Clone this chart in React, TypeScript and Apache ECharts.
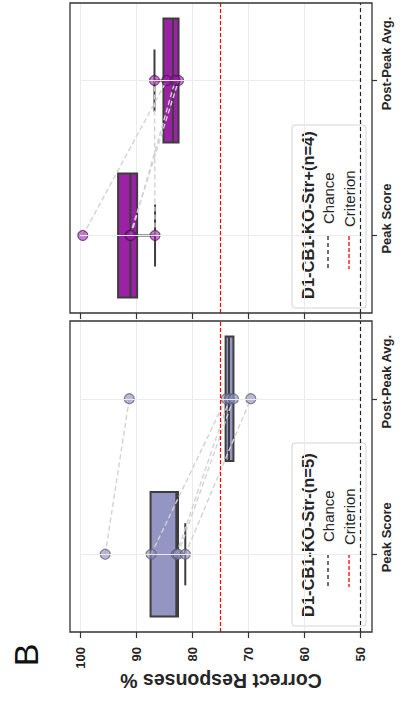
import React, { useEffect, useRef } from "react";
import * as echarts from "echarts";

// ---------- data ----------
const categories = ["Peak Score", "Post-Peak Avg."];
const valueTicks = [50, 60, 70, 80, 90, 100];
const chanceLevel = 50;
const criterionLevel = 75;

// D1-CB1-KO-Str-(n=5) (bottom panel)
const strMinusTitle = "D1-CB1-KO-Str-(n=5)";
const strMinusPeak = [95.5, 87.3, 82.8, 82.5, 81.2];
const strMinusPost = [91.2, 73.9, 73.3, 72.6, 69.5];
// [lower whisker, Q1, median, Q3, upper whisker]
const strMinusBoxPeak = [81.2, 82.5, 82.8, 87.4, 87.4];
const strMinusBoxPost = [72.6, 72.6, 73.4, 74.0, 74.0];

// D1-CB1-KO-Str+(n=4) (top panel)
const strPlusTitle = "D1-CB1-KO-Str+(n=4)";
const strPlusPeak = [99.5, 91.1, 90.9, 86.6];
const strPlusPost = [84.5, 82.4, 83.0, 86.7];
const strPlusBoxPeak = [86.6, 89.8, 91.0, 93.2, 93.2];
const strPlusBoxPost = [82.4, 82.4, 83.4, 85.1, 86.7];

const FONT = '"Liberation Sans", Arial, Helvetica, sans-serif';
const TEXT = "#262626";
const EDGE = "#3d3d3d";

function boxSeries(gi: number, boxes: number[][], fill: string) {
  return {
    type: "custom",
    xAxisIndex: gi,
    yAxisIndex: gi,
    z: 2,
    silent: true,
    data: boxes.map((b, i) => [i, ...b]),
    encode: { x: [1, 2, 3, 4, 5], y: 0 },
    renderItem: (params: any, api: any) => {
      const cat = api.value(0);
      const band = api.size([0, 1])[1];
      const c = (v: number) => api.coord([v, cat]);
      const lo = c(api.value(1));
      const q1 = c(api.value(2));
      const med = c(api.value(3));
      const q3 = c(api.value(4));
      const hi = c(api.value(5));
      const cy = q1[1];
      const bh = band * 0.8;
      const ch = band * 0.4;
      const ls = { stroke: EDGE, lineWidth: 2 };
      const children: any[] = [];
      const addWhisker = (from: number[], to: number[]) => {
        if (Math.abs(from[0] - to[0]) < 0.5) return;
        children.push({
          type: "line",
          shape: { x1: from[0], y1: cy, x2: to[0], y2: cy },
          style: ls,
        });
        children.push({
          type: "line",
          shape: { x1: to[0], y1: cy - ch / 2, x2: to[0], y2: cy + ch / 2 },
          style: ls,
        });
      };
      addWhisker(q1, lo);
      addWhisker(q3, hi);
      children.push({
        type: "rect",
        shape: {
          x: Math.min(q1[0], q3[0]),
          y: cy - bh / 2,
          width: Math.abs(q1[0] - q3[0]),
          height: bh,
        },
        style: { fill, stroke: EDGE, lineWidth: 2 },
      });
      children.push({
        type: "line",
        shape: { x1: med[0], y1: cy - bh / 2, x2: med[0], y2: cy + bh / 2 },
        style: ls,
      });
      return { type: "group", children };
    },
  };
}

function pairSeries(gi: number, peak: number[], post: number[]) {
  return peak.map((p, i) => ({
    type: "line",
    xAxisIndex: gi,
    yAxisIndex: gi,
    z: 3,
    silent: true,
    symbol: "none",
    data: [
      [p, categories[0]],
      [post[i], categories[1]],
    ],
    lineStyle: { color: "#d2d2d2", width: 1.4, type: [5, 3] },
  }));
}

function pointSeries(gi: number, peak: number[], post: number[], fill: string, border: string) {
  return {
    type: "scatter",
    xAxisIndex: gi,
    yAxisIndex: gi,
    z: 4,
    silent: true,
    symbolSize: 10,
    data: [
      ...peak.map((v) => [v, categories[0]]),
      ...post.map((v) => [v, categories[1]]),
    ],
    itemStyle: { color: fill, borderColor: border, borderWidth: 1.2 },
  };
}

function refSeries(gi: number) {
  return {
    type: "scatter",
    xAxisIndex: gi,
    yAxisIndex: gi,
    z: 1,
    silent: true,
    symbolSize: 0,
    data: [[criterionLevel, categories[0]]],
    markLine: {
      silent: true,
      symbol: ["none", "none"],
      label: { show: false },
      animation: false,
      data: [
        ...categories.map((cName) => ({
          yAxis: cName,
          lineStyle: { color: "#ebebeb", type: "solid", width: 1 },
        })),
        { xAxis: chanceLevel, lineStyle: { color: "#222", type: [4, 3], width: 1.2 } },
        { xAxis: criterionLevel, lineStyle: { color: "#ff0000", type: [4, 2], width: 1.2 } },
      ],
    },
  };
}

function legendGraphic(panelTop: number, title: string) {
  const top = panelTop + 122;
  return {
    type: "group",
    z: 20,
    children: [
      {
        type: "rect",
        shape: { x: 292, y: top, width: 74, height: 183, r: 3 },
        style: { fill: "rgba(255,255,255,0.8)", stroke: "#d4d4d4", lineWidth: 1 },
      },
      {
        type: "text",
        x: 308,
        y: panelTop + 296,
        rotation: Math.PI / 2,
        style: {
          text: title,
          font: `bold 16.5px ${FONT}`,
          fill: TEXT,
          align: "left",
          verticalAlign: "middle",
        },
      },
      {
        type: "line",
        shape: { x1: 328, y1: panelTop + 233, x2: 328, y2: panelTop + 266 },
        style: { stroke: "#222", lineWidth: 1.3, lineDash: [4, 3] },
      },
      {
        type: "text",
        x: 328,
        y: panelTop + 221,
        rotation: Math.PI / 2,
        style: { text: "Chance", font: `15px ${FONT}`, fill: TEXT, align: "left", verticalAlign: "middle" },
      },
      {
        type: "line",
        shape: { x1: 349, y1: panelTop + 233, x2: 349, y2: panelTop + 266 },
        style: { stroke: "#ff0000", lineWidth: 1.3, lineDash: [4, 2] },
      },
      {
        type: "text",
        x: 349,
        y: panelTop + 224,
        rotation: Math.PI / 2,
        style: { text: "Criterion", font: `15px ${FONT}`, fill: TEXT, align: "left", verticalAlign: "middle" },
      },
    ],
  };
}

const panels = [
  { top: 3, height: 310, showLabels: false },
  { top: 321, height: 311, showLabels: true },
];

export default function App() {
  const ref = useRef<HTMLDivElement>(null);
  useEffect(() => {
    if (!ref.current) return;
    const chart = echarts.init(ref.current, null, { renderer: "svg" });
    const option: any = {
      animation: false,
      backgroundColor: "#fff",
      textStyle: { fontFamily: FONT },
      grid: panels.map((p) => ({ left: 80, width: 280, top: p.top, height: p.height })),
      xAxis: panels.map((p, i) => ({
        type: "value",
        gridIndex: i,
        min: valueTicks[0],
        max: valueTicks[valueTicks.length - 1],
        interval: 10,
        inverse: true,
        axisLine: { show: false },
        axisTick: { show: true, length: 6, lineStyle: { color: "#333", width: 1.2 } },
        axisLabel: {
          show: p.showLabels,
          rotate: 90,
          margin: 15,
          fontSize: 13,
          fontWeight: "bold",
          color: TEXT,
          fontFamily: FONT,
        },
        splitLine: { show: true, lineStyle: { color: "#ebebeb", width: 1 } },
      })),
      yAxis: panels.map((p, i) => ({
        type: "category",
        gridIndex: i,
        data: categories,
        position: "right",
        offset: 12,
        axisLine: { show: false },
        axisTick: {
          show: true,
          alignWithLabel: true,
          interval: 0,
          length: 5,
          lineStyle: { color: "#333", width: 1.2 },
        },
        axisLabel: {
          interval: 0,
          hideOverlap: false,
          rotate: 90,
          margin: 8,
          color: TEXT,
          formatter: (v: string) => `{gap|}{t|${v}}`,
          rich: {
            gap: { width: 34, height: 12 },
            t: { fontSize: 13, fontWeight: "bold", color: TEXT, fontFamily: FONT },
          },
        },
        splitLine: { show: false },
      })),
      series: [
        refSeries(0),
        boxSeries(0, [strPlusBoxPeak, strPlusBoxPost], "#9b22a5"),
        ...pairSeries(0, strPlusPeak, strPlusPost),
        pointSeries(0, strPlusPeak, strPlusPost, "rgba(155,30,165,0.7)", "rgba(70,20,80,0.85)"),
        refSeries(1),
        boxSeries(1, [strMinusBoxPeak, strMinusBoxPost], "#9595c3"),
        ...pairSeries(1, strMinusPeak, strMinusPost),
        pointSeries(1, strMinusPeak, strMinusPost, "rgba(140,140,185,0.75)", "rgba(90,90,115,0.9)"),
      ],
      graphic: [
        ...panels.map((p) => ({
          type: "rect",
          z: 10,
          silent: true,
          shape: { x: 70, y: p.top, width: 302, height: p.height },
          style: { fill: "none", stroke: "#333", lineWidth: 1.3 },
        })),
        legendGraphic(3, strPlusTitle),
        legendGraphic(321, strMinusTitle),
        {
          type: "text",
          x: 221,
          y: 681,
          rotation: Math.PI,
          style: {
            text: "Correct Responses %",
            font: `bold 19.5px ${FONT}`,
            fill: TEXT,
            align: "center",
            verticalAlign: "middle",
          },
        },
        {
          type: "text",
          x: 26,
          y: 655,
          rotation: Math.PI / 2,
          style: {
            text: "B",
            font: `34px ${FONT}`,
            fill: "#111",
            align: "center",
            verticalAlign: "middle",
          },
        },
      ],
    };
    chart.setOption(option);
    return () => chart.dispose();
  }, []);
  return <div ref={ref} style={{ width: 402, height: 702, position: "absolute", left: 0, top: 0 }} />;
}
